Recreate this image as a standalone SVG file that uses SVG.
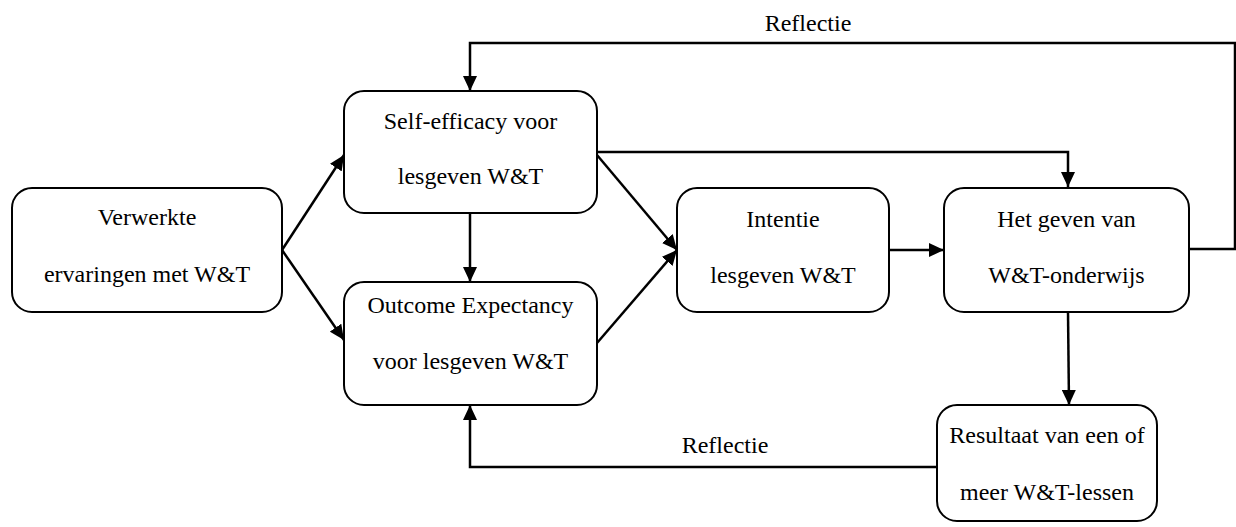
<svg xmlns="http://www.w3.org/2000/svg" width="1236" height="527" viewBox="0 0 1236 527">
<style>
.box{fill:#fff;stroke:#000;stroke-width:2}
.t{font-family:"Liberation Serif","Times New Roman",serif;font-size:24px;fill:#000;text-anchor:middle}
.c{fill:none;stroke:#000;stroke-width:2.5}
</style>
<defs>
<marker id="ah" markerUnits="userSpaceOnUse" markerWidth="16" markerHeight="14" refX="15" refY="7" orient="auto">
<path d="M0,0 L15,7 L0,14 z" fill="#000"/>
</marker>
</defs>
<rect width="1236" height="527" fill="#fff"/>
<g id="connectors">
<line class="c" x1="282" y1="250" x2="344" y2="155" marker-end="url(#ah)"/>
<line class="c" x1="282" y1="250" x2="344" y2="340" marker-end="url(#ah)"/>
<line class="c" x1="470" y1="213" x2="470" y2="282" marker-end="url(#ah)"/>
<line class="c" x1="597" y1="155" x2="677" y2="250" marker-end="url(#ah)"/>
<line class="c" x1="597" y1="343" x2="677" y2="250" marker-end="url(#ah)"/>
<line class="c" x1="889" y1="250" x2="944" y2="250" marker-end="url(#ah)"/>
<polyline class="c" points="597,152 1068,152 1068,187" marker-end="url(#ah)"/>
<line class="c" x1="1068" y1="312" x2="1069" y2="405" marker-end="url(#ah)"/>
<polyline class="c" points="1189,249 1235,249 1235,43 470,43 470,91" marker-end="url(#ah)"/>
<polyline class="c" points="937,467 470,467 470,405" marker-end="url(#ah)"/>
<text class="t" x="808" y="31">Reflectie</text>
<text class="t" x="725" y="453">Reflectie</text>
</g>
<g id="verwerkte">
<rect class="box" x="12" y="188" width="270" height="124" rx="20"/>
<text class="t" x="147" y="225">Verwerkte</text>
<text class="t" x="147" y="282">ervaringen met W&amp;T</text>
</g>
<g id="selfefficacy">
<rect class="box" x="344" y="91" width="253" height="122" rx="20"/>
<text class="t" x="470.5" y="129">Self-efficacy voor</text>
<text class="t" x="470.5" y="184">lesgeven W&amp;T</text>
</g>
<g id="outcome">
<rect class="box" x="344" y="282" width="253" height="123" rx="20"/>
<text class="t" x="470.5" y="313">Outcome Expectancy</text>
<text class="t" x="470.5" y="369">voor lesgeven W&amp;T</text>
</g>
<g id="intentie">
<rect class="box" x="677" y="188" width="212" height="124" rx="20"/>
<text class="t" x="783" y="227">Intentie</text>
<text class="t" x="783" y="283">lesgeven W&amp;T</text>
</g>
<g id="geven">
<rect class="box" x="944" y="188" width="245" height="124" rx="20"/>
<text class="t" x="1066.5" y="227">Het geven van</text>
<text class="t" x="1066.5" y="283">W&amp;T-onderwijs</text>
</g>
<g id="resultaat">
<rect class="box" x="937" y="405" width="220" height="116" rx="20"/>
<text class="t" x="1047" y="443">Resultaat van een of</text>
<text class="t" x="1047" y="500">meer W&amp;T-lessen</text>
</g>
</svg>
